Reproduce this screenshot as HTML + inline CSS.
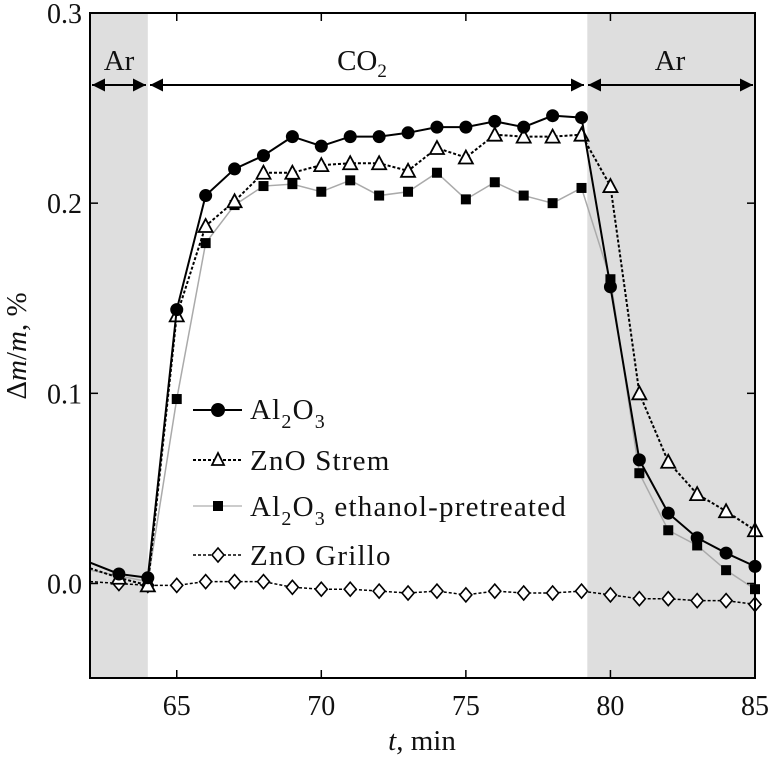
<!DOCTYPE html>
<html><head><meta charset="utf-8"><style>
body{margin:0;background:#fff}
svg text{font-family:"Liberation Serif",serif;fill:#111}
</style></head><body>
<svg id="c" width="773" height="760" xmlns="http://www.w3.org/2000/svg">
<defs>
<marker id="ah2" viewBox="0 0 10 10" markerWidth="14" markerHeight="13" refX="10" refY="5" orient="auto-start-reverse" markerUnits="userSpaceOnUse"><path d="M0,0 L10,5 L0,10 z" fill="#000"/></marker></defs>
<g id="plot"></g>
</svg>
<script>
const xs=[62,63,64,65,66,67,68,69,70,71,72,73,74,75,76,77,78,79,80,81,82,83,84,85];
const al2o3=[0.011,0.005,0.003,0.144,0.204,0.218,0.225,0.235,0.230,0.235,0.235,0.237,0.240,0.240,0.243,0.240,0.246,0.245,0.156,0.065,0.037,0.024,0.016,0.009];
const znoStrem=[0.008,0.003,-0.001,0.141,0.188,0.201,0.216,0.216,0.220,0.221,0.221,0.217,0.229,0.224,0.236,0.235,0.235,0.236,0.209,0.100,0.064,0.047,0.038,0.028];
const al2o3Eth=[0.007,0.004,0.001,0.097,0.179,0.199,0.209,0.210,0.206,0.212,0.204,0.206,0.216,0.202,0.211,0.204,0.200,0.208,0.160,0.058,0.028,0.020,0.007,-0.003];
const znoGrillo=[0.001,0,-0.001,-0.001,0.001,0.001,0.001,-0.002,-0.003,-0.003,-0.004,-0.005,-0.004,-0.006,-0.004,-0.005,-0.005,-0.004,-0.006,-0.008,-0.008,-0.009,-0.009,-0.011];
const xTicks=[65,70,75,80,85];
const yTicks=[0.0,0.1,0.2,0.3];
const yTickLabels=["0.0","0.1","0.2","0.3"];
const L=90,R=755,T=13,B=678,X0=62,X1=85,Y0=-0.0497,Y1=0.3;
const sx=v=>L+(v-X0)/(X1-X0)*(R-L);
const sy=v=>B-(v-Y0)/(Y1-Y0)*(B-T);
const NS="http://www.w3.org/2000/svg";
const g=document.getElementById('plot');
function mk(tag,attrs,parent){const e=document.createElementNS(NS,tag);for(const k in attrs)e.setAttribute(k,attrs[k]);(parent||g).appendChild(e);return e;}
let r1=mk('rect',{x:L,y:T,width:sx(64)-L,height:B-T,fill:'#dedede'});


let r2=mk('rect',{x:sx(79.2),y:T,width:R-sx(79.2),height:B-T,fill:'#dedede'});


function series(vals,name,stroke,dash,width,marker){
  const sg=mk('g',{});
  
  
  const pts=vals.map((v,i)=>sx(xs[i])+','+sy(v)).join(' ');
  mk('polyline',{points:pts,fill:'none',stroke:stroke,'stroke-width':width,'stroke-dasharray':dash},sg);
  vals.forEach((v,i)=>{if(i===0)return;drawMarker(marker,sx(xs[i]),sy(v),sg);});
}
function drawMarker(m,x,y,p){
  let e;
  if(m==='circle')e=mk('circle',{cx:x,cy:y,r:6.5,fill:'#000'},p);
  else if(m==='square')e=mk('rect',{x:x-5,y:y-5,width:10,height:10,fill:'#000'},p);
  else if(m==='tri')e=mk('polygon',{points:`${x},${y-7} ${x-7},${y+6} ${x+7},${y+6}`,fill:'#fff',stroke:'#000','stroke-width':1.8},p);
  else e=mk('polygon',{points:`${x},${y-7} ${x-6},${y} ${x},${y+7} ${x+6},${y}`,fill:'#fff',stroke:'#000','stroke-width':1.6},p);
  
  
}
series(znoGrillo,'series-zno-grillo','#000','3,2',1.5,'diamond');
series(al2o3Eth,'series-al2o3-ethanol','#aaa','',1.5,'square');
series(znoStrem,'series-zno-strem','#000','3,2',2,'tri');
series(al2o3,'series-al2o3','#000','',2,'circle');
let fr=mk('rect',{x:L,y:T,width:R-L,height:B-T,fill:'none',stroke:'#000','stroke-width':2});


xTicks.forEach(t=>{
  const x=sx(t);
  mk('line',{x1:x,y1:B,x2:x,y2:B-8,stroke:'#000','stroke-width':1.5});
  mk('line',{x1:x,y1:T,x2:x,y2:T+8,stroke:'#000','stroke-width':1.5});
  const tx=mk('text',{x:x,y:715,'font-size':28,'text-anchor':'middle'});tx.textContent=t;
  
  
});
yTicks.forEach((t,i)=>{
  const y=sy(t);
  mk('line',{x1:L,y1:y,x2:L+8,y2:y,stroke:'#000','stroke-width':1.5});
  mk('line',{x1:R,y1:y,x2:R-8,y2:y,stroke:'#000','stroke-width':1.5});
  const tx=mk('text',{x:L-8,y:y+10,'font-size':28,'text-anchor':'end'});tx.textContent=yTickLabels[i];
  
  
});
</script>
<svg width="773" height="760" style="position:absolute;left:0;top:0">
<line x1="92" y1="85" x2="146" y2="85" stroke="#000" stroke-width="2" marker-start="url(#ah2)" marker-end="url(#ah2)"/>
<line x1="150" y1="85" x2="584" y2="85" stroke="#000" stroke-width="2" marker-start="url(#ah2)" marker-end="url(#ah2)"/>
<line x1="588" y1="85" x2="753" y2="85" stroke="#000" stroke-width="2" marker-start="url(#ah2)" marker-end="url(#ah2)"/>
<text x="119" y="70" font-size="29" text-anchor="middle">Ar</text>
<text x="362" y="70" font-size="29" text-anchor="middle">CO<tspan font-size="19" dy="7">2</tspan></text>
<text x="670" y="70" font-size="29" text-anchor="middle">Ar</text>
<text x="422" y="750" font-size="29" text-anchor="middle"><tspan font-style="italic">t</tspan>, min</text>
<text transform="translate(26,346) rotate(-90)" font-size="29" text-anchor="middle">Δ<tspan font-style="italic">m</tspan>/<tspan font-style="italic">m</tspan>, %</text>
<g font-size="28" letter-spacing="1.2">
<g><line x1="193" y1="410" x2="242" y2="410" stroke="#000" stroke-width="2"/><circle cx="218" cy="410" r="7" fill="#000"/><text x="250" y="419" font-size="29">Al<tspan font-size="20" dy="9">2</tspan><tspan dy="-9">O</tspan><tspan font-size="20" dy="9">3</tspan></text></g>
<g><line x1="193" y1="460" x2="242" y2="460" stroke="#000" stroke-width="2" stroke-dasharray="3,2"/><polygon points="218,453 212,465 224,465" fill="#fff" stroke="#000" stroke-width="1.8"/><text x="250" y="470" font-size="29">ZnO Strem</text></g>
<g><line x1="193" y1="506" x2="242" y2="506" stroke="#bbb" stroke-width="1.5"/><rect x="213" y="501" width="10" height="10" fill="#000"/><text x="250" y="516" font-size="29">Al<tspan font-size="20" dy="9">2</tspan><tspan dy="-9">O</tspan><tspan font-size="20" dy="9">3</tspan><tspan dy="-9"> ethanol-pretreated</tspan></text></g>
<g><line x1="193" y1="555" x2="242" y2="555" stroke="#000" stroke-width="1.5" stroke-dasharray="3,2"/><polygon points="218,548 212,555 218,562 224,555" fill="#fff" stroke="#000" stroke-width="1.6"/><text x="250" y="565" font-size="29">ZnO Grillo</text></g>
</g>
</svg>
</body></html>
